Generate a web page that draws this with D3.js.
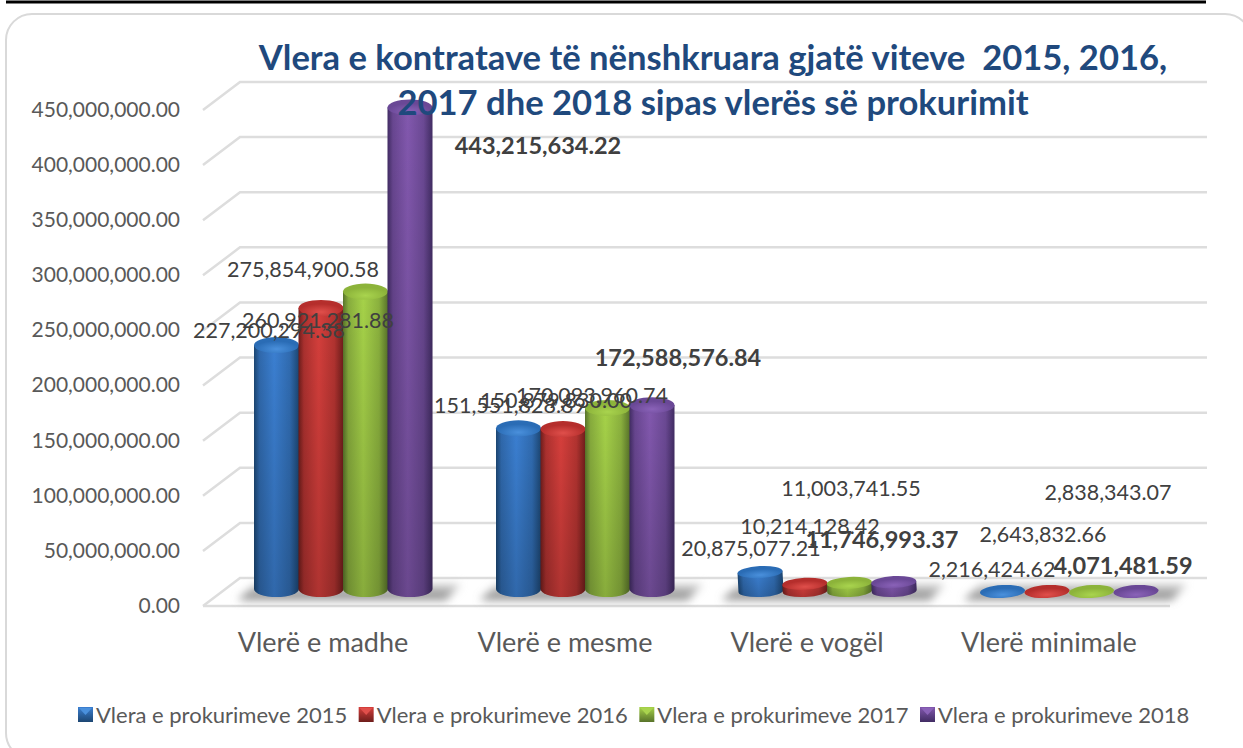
<!DOCTYPE html>
<html><head><meta charset="utf-8">
<script src="https://cdn.jsdelivr.net/npm/d3@7"></script>
<style>html,body{margin:0;padding:0;background:#fff}svg{display:block}text{font-family:Lato,"Open Sans",sans-serif}</style>
</head><body><svg id="c" width="1243" height="748"></svg>
<script>
const titleLines = ["Vlera e kontratave të nënshkruara gjatë viteve  2015, 2016,", "2017 dhe 2018 sipas vlerës së prokurimit"];
const categories = ["Vlerë e madhe", "Vlerë e mesme", "Vlerë e vogël", "Vlerë minimale"];
const seriesNames = ["Vlera e prokurimeve 2015", "Vlera e prokurimeve 2016", "Vlera e prokurimeve 2017", "Vlera e prokurimeve 2018"];
const values2015 = [227200294.38, 151551828.89, 20875077.21, 2216424.62];
const values2016 = [260921281.88, 150879830.00, 10214128.42, 2643832.66];
const values2017 = [275854900.58, 170093960.74, 11003741.55, 2838343.07];
const values2018 = [443215634.22, 172588576.84, 11746993.37, 4071481.59];
const tickValues = [0, 50e6, 100e6, 150e6, 200e6, 250e6, 300e6, 350e6, 400e6, 450e6];
const palette = [
  {dark:"#1c4672", mid:"#3b7fd1", top:"#2a6cb5", hi:"#4a90dc"},
  {dark:"#6e1d1b", mid:"#d63f3c", top:"#b52e2c", hi:"#e04f4b"},
  {dark:"#58732a", mid:"#a6d249", top:"#8cb33a", hi:"#a9d44e"},
  {dark:"#412c63", mid:"#8258ae", top:"#6a4896", hi:"#8a62b8"}
];
// hand-placed label anchors of the original: [centre x, centre y] per series, per category
const labelAnchors = [
  [[269,330],[510,405],[751,548],[992,569]],
  [[318,320],[556,400],[810,526],[1043,534]],
  [[303,269],[592,395],[851,488],[1108,492]],
  [[538,146],[678,358],[882,540],[1123,566]]
];
const allSeries = [values2015, values2016, values2017, values2018];
const fmt = d3.format(",.2f");
const svg = d3.select("#c");
const defs = svg.append("defs");
palette.forEach((p,i)=>{
  const g = defs.append("linearGradient").attr("id","cyl"+i);
  [[0,p.dark],[.12,d3.interpolateRgb(p.dark,p.mid)(.6)],[.45,p.mid],[.8,d3.interpolateRgb(p.dark,p.mid)(.65)],[1,p.dark]]
    .forEach(s=>g.append("stop").attr("offset",s[0]).attr("stop-color",s[1]));
  const t = defs.append("radialGradient").attr("id","capg"+i).attr("cy",.75);
  t.append("stop").attr("offset",0).attr("stop-color",p.hi);
  t.append("stop").attr("offset",1).attr("stop-color",p.top);
  const l = defs.append("linearGradient").attr("id","leg"+i).attr("x2",0).attr("y2",1);
  l.append("stop").attr("offset",0).attr("stop-color",p.mid);
  l.append("stop").attr("offset",1).attr("stop-color",p.dark);
});
const shade = defs.append("linearGradient").attr("id","shade").attr("x2",0).attr("y2",1);
shade.append("stop").attr("offset",0).attr("stop-color","#000").attr("stop-opacity",0);
shade.append("stop").attr("offset",1).attr("stop-color","#000").attr("stop-opacity",.18);
const sh = defs.append("linearGradient").attr("id","shadowFill").attr("x2",0).attr("y2",1);
sh.append("stop").attr("offset",0).attr("stop-color","#d8d8d8");
sh.append("stop").attr("offset",1).attr("stop-color","#808080");
defs.append("filter").attr("id","blur").attr("x","-20%").attr("width","140%").attr("y","-60%").attr("height","220%")
  .append("feGaussianBlur").attr("stdDeviation",4);

// frame
svg.append("rect").attr("x",6).attr("y",14).attr("width",1245).attr("height",745).attr("rx",26)
  .attr("fill","#fff").attr("stroke","#d9d9d9").attr("stroke-width",2);
svg.append("line").attr("x1",6).attr("x2",1206).attr("y1",2).attr("y2",2).attr("stroke","#000").attr("stroke-width",3);

const yAxis = d3.scaleLinear().domain([0,450e6]).range([606,110]);
const depth = {dx:37, dy:28};
const gridLeft = 203, gridRight = 1207;
const grid = svg.append("g").attr("stroke","#dddddd").attr("stroke-width",2.5).attr("fill","none");
tickValues.forEach(v=>{
  const y = yAxis(v);
  grid.append("path").attr("d",d3.line()([[gridLeft,y],[gridLeft+depth.dx,y-depth.dy],[gridRight,y-depth.dy]]));
});
grid.append("path").attr("d",d3.line()([[gridLeft,yAxis(0)],[gridRight-depth.dx,yAxis(0)]]));

// axis tick labels
svg.append("g").selectAll("text").data(tickValues).join("text")
  .attr("x",180).attr("y",d=>yAxis(d)).attr("dy","0.33em").attr("text-anchor","end")
  .attr("font-size",21).attr("fill","#595959").text(d=>fmt(d));

// bars
const x0 = d3.scaleBand().domain(categories).range([222,1190]);
const x1 = d3.scaleBand().domain(d3.range(4)).range([-89,89]);
const yBar = d3.scaleLinear().domain([0,150e6,450e6]).range([595,430,100]);
const capRy = v => v>50e6 ? 8 : v>5e6 ? 6 : 6.5;
const floorBottom = 597;
// floor shadows
svg.append("g").selectAll("path").data(categories).join("path")
  .attr("d",d=>{const c=x0(d)+x0.bandwidth()/2;
    return d3.line()([[c-105,600],[c-88,584],[c+118,584],[c+103,600]]);})
  .attr("fill","url(#shadowFill)").attr("filter","url(#blur)");
categories.forEach((c,ci)=>{
  const g = svg.append("g");
  allSeries.forEach((vals,si)=>{
    const v = vals[ci], left = x0(c)+x0.bandwidth()/2+x1(si), w = x1.bandwidth()+.5;
    const ry = capRy(v), rx = w/2, base = floorBottom-ry;
    const top = v>5e6 ? yBar(v) : base+1, cx = left+rx;
    const body = `M${left},${top}V${base}A${rx},${ry} 0 0 0 ${left+w},${base}V${top}Z`;
    const tilt = v>50e6 ? 0 : -3;
    const bar = g.append("g").attr("transform",`rotate(${tilt} ${cx} ${(top+base)/2})`);
    bar.append("path").attr("fill",`url(#cyl${si})`).attr("d",body);
    bar.append("path").attr("fill","url(#shade)").attr("d",body);
    bar.append("ellipse").attr("cx",cx).attr("cy",top).attr("rx",rx).attr("ry",ry).attr("fill",`url(#capg${si})`);
  });
});

// category labels
svg.append("g").selectAll("text").data(categories).join("text")
  .attr("x",d=>x0(d)+x0.bandwidth()/2-20).attr("y",643).attr("dy","0.33em").attr("text-anchor","middle")
  .attr("font-size",27).attr("fill","#595959").text(d=>d);

// data labels
allSeries.forEach((vals,si)=>{
  svg.append("g").selectAll("text").data(vals).join("text")
    .attr("x",(d,i)=>labelAnchors[si][i][0]).attr("y",(d,i)=>labelAnchors[si][i][1]).attr("dy","0.35em")
    .attr("text-anchor","middle").attr("font-size",si===3?23.5:21.5).attr("font-weight",si===3?700:400)
    .attr("fill","#404040").text(d=>fmt(d));
});

// title
svg.append("g").selectAll("text").data(titleLines).join("text")
  .attr("x",713).attr("y",(d,i)=>70+i*45).attr("text-anchor","middle")
  .style("white-space","pre").attr("font-size",34.6).attr("font-weight",700).attr("fill","#1f497d").text(d=>d);

// legend
const legendX = d3.scalePoint().domain(seriesNames).range([78,920]);
const lg = svg.append("g").selectAll("g").data(seriesNames).join("g").attr("transform",d=>`translate(${legendX(d)},707)`);
lg.append("rect").attr("width",15).attr("height",15).attr("fill",(d,i)=>`url(#leg${i})`);
lg.append("path").attr("d","M1,1H14L7.5,8Z").attr("fill",(d,i)=>palette[i].hi);
lg.append("text").attr("x",18).attr("y",8).attr("dy","0.35em").attr("font-size",22).attr("fill","#595959").text(d=>d);
</script></body></html>
